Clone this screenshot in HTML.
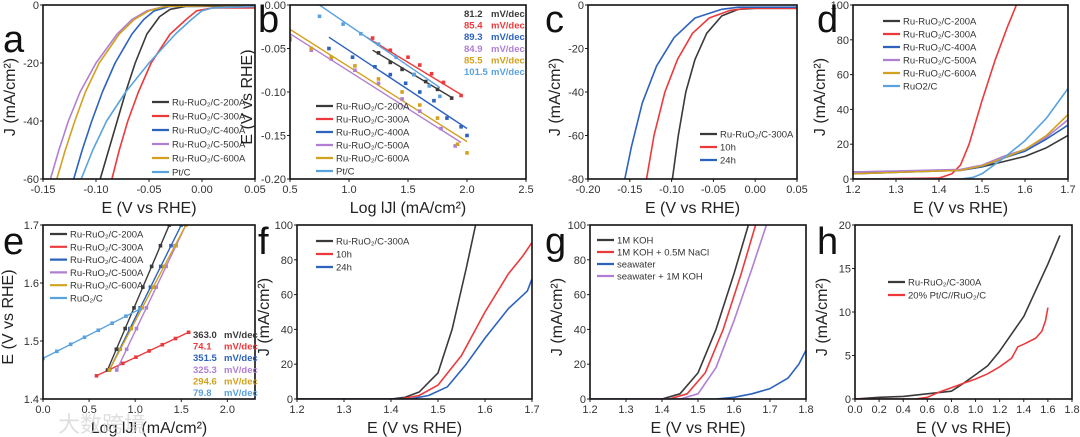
<!DOCTYPE html>
<html><head><meta charset="utf-8"><style>
html,body{margin:0;padding:0;background:#fff;width:1080px;height:437px;overflow:hidden}
svg text{font-family:"Liberation Sans","Noto Sans CJK SC",sans-serif}
</style></head><body>
<svg id="fig" width="1080" height="437" viewBox="0 0 1080 437" xmlns="http://www.w3.org/2000/svg"></svg>
<script>
const C={k:'#3a3a3a',r:'#ec3a3c',b:'#2d62bd',p:'#b07fd3',g:'#d2a11f',l:'#5aa2dd'};
const legendSix=['Ru-RuO₂/C-200A','Ru-RuO₂/C-300A','Ru-RuO₂/C-400A','Ru-RuO₂/C-500A','Ru-RuO₂/C-600A'];
// Panel a data
const aLabels=legendSix.concat(['Pt/C']);
const aX=[[-0.096,-0.088,-0.080,-0.072,-0.063,-0.052,-0.040,-0.030,-0.015,0.05],[-0.085,-0.078,-0.070,-0.060,-0.048,-0.030,-0.015,-0.005,0.01,0.05],[-0.121,-0.113,-0.104,-0.094,-0.082,-0.066,-0.055,-0.045,-0.030,0.05],[-0.143,-0.135,-0.126,-0.115,-0.100,-0.080,-0.066,-0.052,-0.035,0.05],[-0.137,-0.129,-0.120,-0.110,-0.097,-0.078,-0.064,-0.050,-0.035,0.05],[-0.114,-0.103,-0.090,-0.072,-0.050,-0.025,-0.010,0,0.01,0.05]];
const aY=[[-60,-50,-40,-30,-20,-10,-4,-1.5,-0.5,-0.3],[-60,-50,-40,-30,-20,-10,-5,-2,-1,-1],[-60,-50,-40,-30,-20,-10,-5,-2,-0.5,0],[-60,-50,-40,-30,-20,-10,-5,-2,-0.5,0],[-60,-50,-40,-30,-20,-10,-5,-2,-0.5,0],[-60,-50,-40,-30,-20,-10,-5,-2,-1,-0.5]];
// Panel b data
const bLabels=aLabels;
const bLineX=[[1.2,1.88],[1.15,1.95],[0.83,2.0],[0.5,1.95],[0.5,2.0],[0.75,1.77]];
const bLineY=[[-0.052,-0.107],[-0.037,-0.103],[-0.037,-0.142],[-0.033,-0.158],[-0.028,-0.157],[0,-0.095]];
const bPtX=[[1.25,1.35,1.45,1.55,1.65,1.75,1.87],[1.2,1.35,1.5,1.6,1.7,1.8,1.95],[0.83,1.03,1.22,1.35,1.48,1.6,1.72,1.83,1.95,2.0],[0.5,0.68,0.85,1.05,1.25,1.45,1.6,1.78,1.9],[0.5,0.68,0.85,1.05,1.25,1.45,1.6,1.75,1.92,2.0],[0.75,0.95,1.1,1.25,1.4,1.55,1.68,1.77]];
const bPtY=[[-0.055,-0.066,-0.074,-0.08,-0.088,-0.097,-0.107],[-0.038,-0.052,-0.06,-0.069,-0.079,-0.089,-0.104],[-0.05,-0.06,-0.071,-0.08,-0.09,-0.1,-0.11,-0.13,-0.14,-0.15],[-0.04,-0.052,-0.062,-0.075,-0.09,-0.108,-0.122,-0.142,-0.162],[-0.038,-0.05,-0.06,-0.07,-0.085,-0.1,-0.115,-0.13,-0.16,-0.17],[-0.013,-0.022,-0.033,-0.045,-0.06,-0.08,-0.093,-0.105]];
const bSlopes=['81.2','85.4','89.3','84.9','85.5','101.5'];
// Panel c data
const cLabels=['Ru-RuO₂/C-300A','10h','24h'];
const cX=[[-0.099,-0.092,-0.083,-0.072,-0.058,-0.040,-0.020,0.0,0.05],[-0.130,-0.121,-0.108,-0.093,-0.075,-0.055,-0.030,-0.010,0.05],[-0.156,-0.148,-0.135,-0.118,-0.097,-0.072,-0.040,-0.020,0.05]];
const cY=[[-80,-60,-40,-25,-13,-5,-2,-1.5,-1.5],[-80,-60,-40,-25,-13,-6,-2.5,-1.5,-1.5],[-80,-65,-45,-28,-15,-6,-2,-1,-1]];
// Panel d data
const dLabels=legendSix.concat(['RuO2/C']);
const dXc=[1.2,1.45,1.5,1.55,1.6,1.65,1.7];
const dX=[dXc,[1.2,1.40,1.43,1.45,1.47,1.50,1.53,1.56,1.58],dXc,dXc,dXc,[1.2,1.45,1.48,1.5,1.55,1.6,1.65,1.7]];
const dY=[[4,5,7,10,13,18,25],[0,0.5,3,8,20,45,68,88,100],[3,5,7,12,16,23,31],[4,5.5,8,13,17,24,34],[3,5,7.5,12,17,25,37],[0,0,1,3,12,22,35,52]];
// Panel e data
const eLabels=legendSix.concat(['RuO₂/C']);
const eLineX=[[0.7,1.37],[0.58,1.58],[0.72,1.5],[0.8,1.55],[0.72,1.55],[0,1.05]];
const eLineY=[[1.45,1.70],[1.44,1.515],[1.45,1.70],[1.45,1.70],[1.45,1.70],[1.47,1.555]];
const eSlopes=['363.0','74.1','351.5','325.3','294.6','79.8'];
// Panel f data
const fLabels=cLabels;
const fX=[[1.2,1.40,1.43,1.46,1.5,1.53,1.56,1.58],[1.2,1.42,1.46,1.5,1.55,1.6,1.65,1.68,1.7],[1.2,1.44,1.48,1.52,1.56,1.6,1.65,1.69,1.7]];
const fY=[[0,0,1,4,15,40,75,100],[0,0,2,8,25,50,72,82,90],[0,0,2,7,20,35,52,62,69]];
// Panel g data
const gLabels=['1M KOH','1M KOH + 0.5M NaCl','seawater','seawater + 1M KOH'];
const gX=[[1.2,1.40,1.45,1.5,1.55,1.6,1.64],[1.2,1.42,1.47,1.52,1.57,1.62,1.66],[1.2,1.55,1.6,1.65,1.7,1.75,1.78,1.8],[1.2,1.45,1.5,1.55,1.6,1.65,1.69]];
const gY=[[0,0,3,15,40,72,100],[0,0,3,15,40,72,100],[0,0,1,3,6,12,20,28],[0,0,3,18,45,75,100]];
// Panel h data
const hLabels=['Ru-RuO₂/C-300A','20% Pt/C//RuO₂/C'];
const hX=[[0,0.2,0.4,0.6,0.8,0.9,1.0,1.1,1.2,1.3,1.4,1.5,1.6,1.7],[0,0.5,0.6,0.7,0.8,0.9,1.0,1.1,1.2,1.3,1.35,1.4,1.5,1.55,1.58,1.6]];
const hY=[[0,0.2,0.3,0.6,0.9,1.8,2.8,3.8,5.5,7.5,9.5,12.5,15.5,18.8],[0,0,0.2,0.8,1.3,1.8,2.3,2.9,3.7,4.7,6.0,6.3,7.0,7.8,9,10.5]];

const svg=document.getElementById('fig');
const NS='http://www.w3.org/2000/svg';
function mk(tag,at,parent){const e=document.createElementNS(NS,tag);for(const k in at)e.setAttribute(k,at[k]);(parent||svg).appendChild(e);return e;}
function txt(s,at,parent){const e=mk('text',at,parent);e.textContent=s;return e;}

function panel(o){
  const g=mk('g',{});
  
  
  const sx=v=>o.L+(v-o.x0)/(o.x1-o.x0)*(o.R-o.L);
  const sy=v=>o.B-(v-o.y0)/(o.y1-o.y0)*(o.B-o.T);
  o.sx=sx;o.sy=sy;
  o.xt.forEach(v=>{const x=sx(v);mk('line',{x1:x,x2:x,y1:o.B,y2:o.B+3,stroke:'#222','stroke-width':1},g);
    const t=txt(o.xf(v),{x:x,y:o.B+14,'font-size':11,'text-anchor':'middle',fill:'#333'},g);
    });
  o.yt.forEach(v=>{const y=sy(v);mk('line',{x1:o.L-3,x2:o.L,y1:y,y2:y,stroke:'#222','stroke-width':1},g);
    const t=txt(o.yf(v),{x:o.L-4,y:y+4,'font-size':11,'text-anchor':'end',fill:'#333'},g);
    });
  const cp=mk('clipPath',{id:'cp'+o.id},g);mk('rect',{x:o.L,y:o.T,width:o.R-o.L,height:o.B-o.T},cp);
  const pg=mk('g',{'clip-path':'url(#cp'+o.id+')'},g);
  o.pg=pg;
  const xt=txt(o.xtitle,{x:(o.L+o.R)/2,y:o.B+34,'font-size':16,'text-anchor':'middle',fill:'#222'},g);
  
  const yx=o.L-(o.ytx||28),yy=(o.T+o.B)/2+5;
  const yt=txt(o.ytitle,{x:yx,y:yy,'font-size':16,'text-anchor':'middle',fill:'#222',transform:'rotate(-90 '+yx+' '+yy+')'},g);
  
  const lt=txt(o.id,{x:o.lx,y:o.ly,'font-size':38,fill:'#111'},g);
  
  o.g=g;
  return o;
}
function frame(o){const r=mk('rect',{x:o.L,y:o.T,width:o.R-o.L,height:o.B-o.T,fill:'none',stroke:'#111','stroke-width':1.6},o.g);
  }
function curves(o,X,Y,cols,w){
  X.forEach((xs,i)=>{const d=xs.map((x,j)=>(j?'L':'M')+o.sx(x).toFixed(1)+','+o.sy(Y[i][j]).toFixed(1)).join('');
    const p=mk('path',{d:d,fill:'none',stroke:cols[i],'stroke-width':w||1.6,'stroke-linejoin':'round'},o.pg);
    });
}
function dots(o,X,Y,cols){
  X.forEach((xs,i)=>xs.forEach((x,j)=>{const c=mk('rect',{x:o.sx(x)-1.8,y:o.sy(Y[i][j])-1.8,width:3.6,height:3.6,fill:cols[i]},o.pg);
    }));
}
function legend(o,labels,cols,x,y,dy,fs){
  labels.forEach((s,i)=>{const g=mk('g',{},o.g);
    
    mk('line',{x1:x,x2:x+17,y1:y+i*dy,y2:y+i*dy,stroke:cols[i],'stroke-width':2.2},g);
    txt(s,{x:x+20,y:y+i*dy+3.5,'font-size':fs||9.5,fill:'#333'},g);});
}
function slopes(o,nums,cols,x,y,dy,ux){
  nums.forEach((s,i)=>{const g=mk('g',{},o.g);
    
    txt(s,{x:x,y:y+i*dy+4,'font-size':9.5,'font-weight':'bold',fill:cols[i]},g);
    txt('mV/dec',{x:ux,y:y+i*dy+4,'font-size':9.5,'font-weight':'bold',fill:cols[i]},g);});
}
const six=[C.k,C.r,C.b,C.p,C.g,C.l];
const f2=v=>v.toFixed(2), f1=v=>v.toFixed(1), f0=v=>String(v);
const E='E (V vs RHE)', J='J (mA/cm²)';

let a=panel({id:'a',L:43,R:255,T:5,B:179,x0:-0.15,x1:0.05,y0:-60,y1:0,xt:[-0.15,-0.1,-0.05,0,0.05],yt:[0,-20,-40,-60],xf:f2,yf:f0,xtitle:E,ytitle:J,lx:3,ly:52});
curves(a,aX,aY,six);frame(a);legend(a,aLabels,six,152,102,14);
let b=panel({id:'b',L:290,R:526,T:5,B:179,x0:0.5,x1:2.5,y0:-0.2,y1:0,xt:[0.5,1,1.5,2,2.5],yt:[0,-0.05,-0.1,-0.15,-0.2],xf:f1,yf:f2,xtitle:'Log lJl (mA/cm²)',ytitle:'E (V vs RHE)',ytx:38,lx:258,ly:32});
curves(b,bLineX,bLineY,six,1.4);dots(b,bPtX,bPtY,six);frame(b);legend(b,bLabels,six,316,106,13);
slopes(b,bSlopes,six,464,13,11.6,491);
let c=panel({id:'c',L:588,R:797,T:5,B:179,x0:-0.2,x1:0.05,y0:-80,y1:0,xt:[-0.2,-0.15,-0.1,-0.05,0,0.05],yt:[0,-20,-40,-60,-80],xf:f2,yf:f0,xtitle:E,ytitle:J,lx:545,ly:32});
curves(c,cX,cY,[C.k,C.r,C.b]);frame(c);legend(c,cLabels,[C.k,C.r,C.b],700,134,13);
let d=panel({id:'d',L:853,R:1068,T:5,B:179,x0:1.2,x1:1.7,y0:0,y1:100,xt:[1.2,1.3,1.4,1.5,1.6,1.7],yt:[0,20,40,60,80,100],xf:f1,yf:f0,xtitle:E,ytitle:J,lx:817,ly:32});
curves(d,dX,dY,six);frame(d);legend(d,dLabels,six,883,21,13);
let e=panel({id:'e',L:43,R:255,T:225,B:399,x0:0,x1:2.3,y0:1.4,y1:1.7,xt:[0,0.5,1,1.5,2],yt:[1.4,1.5,1.6,1.7],xf:f1,yf:f1,xtitle:'Log lJl (mA/cm²)',ytitle:'E (V vs RHE)',ytx:30,lx:3,ly:254});
curves(e,eLineX,eLineY,six,1.4);
const ePtX=eLineX.map(l=>{const n=8,out=[];for(let k=0;k<n;k++)out.push(l[0]+(l[1]-l[0])*k/(n-1));return out;});
const ePtY=eLineY.map(l=>{const n=8,out=[];for(let k=0;k<n;k++)out.push(l[0]+(l[1]-l[0])*k/(n-1));return out;});
dots(e,ePtX,ePtY,six);frame(e);legend(e,eLabels,six,50,234,12.8);
slopes(e,eSlopes,six,193,334,11.6,224);
let f=panel({id:'f',L:297,R:532,T:225,B:399,x0:1.2,x1:1.7,y0:0,y1:100,xt:[1.2,1.3,1.4,1.5,1.6,1.7],yt:[0,20,40,60,80,100],xf:f1,yf:f0,xtitle:E,ytitle:J,lx:258,ly:254});
curves(f,fX,fY,[C.k,C.r,C.b]);frame(f);legend(f,fLabels,[C.k,C.r,C.b],316,241,13);
let g=panel({id:'g',L:590,R:806,T:225,B:399,x0:1.2,x1:1.8,y0:0,y1:100,xt:[1.2,1.3,1.4,1.5,1.6,1.7,1.8],yt:[0,20,40,60,80,100],xf:f1,yf:f0,xtitle:E,ytitle:J,lx:545,ly:254});
curves(g,gX,gY,[C.k,C.r,C.b,C.p]);frame(g);legend(g,gLabels,[C.k,C.r,C.b,C.p],597,240,12);
let h=panel({id:'h',L:855,R:1072,T:225,B:399,x0:0,x1:1.8,y0:0,y1:20,xt:[0,0.2,0.4,0.6,0.8,1,1.2,1.4,1.6,1.8],yt:[0,5,10,15,20],xf:f1,yf:f0,xtitle:E,ytitle:J,lx:817,ly:254});
curves(h,hX,hY,[C.k,C.r]);frame(h);legend(h,hLabels,[C.k,C.r],888,282,13);

const wm=txt('大数跨境',{x:58,y:432,'font-size':22,fill:'#d8d8d8',opacity:0.8});


</script>
</body></html>
